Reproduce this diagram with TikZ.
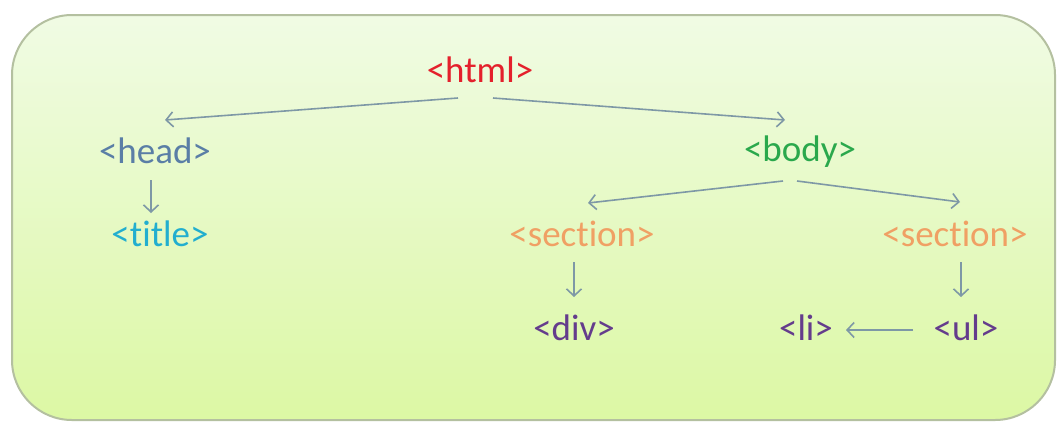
\documentclass[tikz,border=0pt]{standalone}
\usepackage{fontspec}
\setmainfont{Carlito}[Ligatures={NoCommon,NoContextual}]
\usetikzlibrary{arrows.meta}
\definecolor{bgtop}{HTML}{F0FBE4}
\definecolor{bgbot}{HTML}{DCF8A4}
\definecolor{frame}{HTML}{B4C0A0}
\definecolor{arr}{HTML}{7E98A6}
\definecolor{chtml}{HTML}{E4202C}
\definecolor{chead}{HTML}{5A7EA6}
\definecolor{cbody}{HTML}{2AA84C}
\definecolor{ctitle}{HTML}{22AECF}
\definecolor{csec}{HTML}{F0A064}
\definecolor{cpurp}{HTML}{643C8C}
\begin{document}
\begin{tikzpicture}[x=1pt,y=-1pt,
  tag/.style={font=\fontsize{37}{42}\selectfont, inner sep=0pt, anchor=center},
  link/.style={draw=arr, line width=1.6pt, -{Straight Barb[length=7pt,width=15pt,line width=1.6pt]}}]
\useasboundingbox[fill=white] (0,0) rectangle (1059,423);
\shade[top color=bgtop, bottom color=bgbot, draw=frame, line width=2pt, rounded corners=60pt]
  (12,15) rectangle (1055,420);
\node[tag, text=chtml] (html) at (480,70) {<html>};
\node[tag, text=chead] (head) at (155,151) {<head>};
\node[tag, text=cbody] (body) at (800,152) {<body>};
\node[tag, text=ctitle] (title) at (160,234) {<title>};
\node[tag, text=csec] (sec1) at (582,234) {<section>};
\node[tag, text=csec] (sec2) at (955,234) {<section>};
\node[tag, text=cpurp] (div) at (574,328) {<div>};
\node[tag, text=cpurp] (li) at (806,328) {<li>};
\node[tag, text=cpurp] (ul) at (966,328) {<ul>};
\coordinate (h1) at (458,98);
\coordinate (h2) at (493,98);
\coordinate (b1) at (783,181);
\coordinate (b2) at (797,181);
\draw[link] (h1) -- (165,120) coordinate (headtop);
\draw[link] (h2) -- (785,120) coordinate (bodytop);
\draw[link] (b1) -- (588,203) coordinate (sec1top);
\draw[link] (b2) -- (960,202) coordinate (sec2top);
\draw[link] (151,180) -- (151,213);
\draw[link] (574,262) -- (574,297);
\draw[link] (961,262) -- (961,297);
\draw[link] (913,330) -- (846,330);
\end{tikzpicture}
\end{document}
